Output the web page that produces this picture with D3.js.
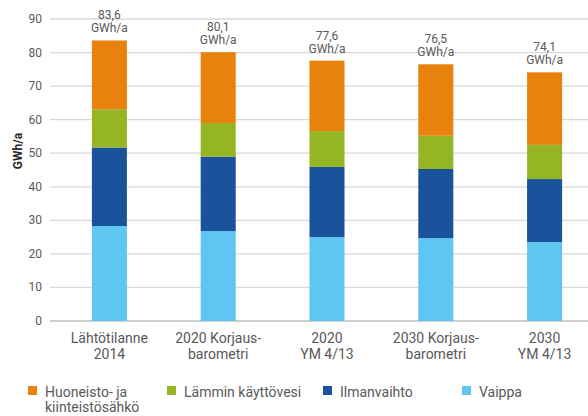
<!DOCTYPE html>
<html>
<head>
<meta charset="utf-8">
<script src="https://cdn.jsdelivr.net/npm/d3@7"></script>
<style>
  body { margin: 0; background: #fff; }
  text { font-family: Roboto, "Noto Sans", sans-serif; fill: #595959; }
</style>
</head>
<body>
<svg id="chart" width="588" height="416"></svg>
<script>
// categories, two lines each
var categories = [["Lähtötilanne", "2014"], ["2020 Korjaus-", "barometri"], ["2020", "YM 4/13"], ["2030 Korjaus-", "barometri"], ["2030", "YM 4/13"]];
var totals = ["83,6", "80,1", "77,6", "76,5", "74,1"];
// series, stacked from the bottom
var vaippa = [28.3, 26.8, 25.0, 24.7, 23.5];
var ilmanvaihto = [23.4, 22.2, 20.9, 20.6, 18.8];
var kayttovesi = [11.4, 10.0, 10.7, 9.9, 10.2];
var sahko = [20.5, 21.1, 21.0, 21.3, 21.6];
var yTicks = [0, 10, 20, 30, 40, 50, 60, 70, 80, 90];

var seriesNames = ["Vaippa", "Ilmanvaihto", "Lämmin käyttövesi", "Huoneisto- ja kiinteistösähkö"];
var seriesData = [vaippa, ilmanvaihto, kayttovesi, sahko];
var colors = ["#5fc6f1", "#1a539c", "#95b524", "#e8820c"];

var svg = d3.select("#chart");

var x = d3.scaleBand().domain(d3.range(categories.length))
    .range([55, 599]).paddingInner(0.678).paddingOuter(0.339);
var y = d3.scaleLinear().domain([0, 90]).range([321, 19]);

// gridlines
svg.selectAll("line.grid").data(yTicks).enter().append("line")
    .attr("class", "grid")
    .attr("x1", 50).attr("x2", 588)
    .attr("y1", function(d){ return y(d); }).attr("y2", function(d){ return y(d); })
    .style("stroke", function(d){ return d === 0 ? "#bfbfbf" : "#d9d9d9"; })
    .style("stroke-width", 1.3);

// y tick labels
svg.selectAll("text.ytick").data(yTicks).enter().append("text")
    .attr("class", "ytick")
    .attr("x", 42).attr("y", function(d){ return y(d) + 4; })
    .attr("text-anchor", "end").style("font-size", "12px")
    .text(function(d){ return d; });

// axis title
svg.append("text").attr("transform", "translate(22,151) rotate(-90)")
    .attr("text-anchor", "middle").style("font-size", "12px")
    .style("font-weight", "bold").style("fill", "#262626")
    .text("GWh/a");

// stack
var rows = categories.map(function(c, i){
    var r = {};
    seriesNames.forEach(function(s, k){ r[s] = seriesData[k][i]; });
    return r;
});
var stacked = d3.stack().keys(seriesNames)(rows);

svg.selectAll("g.layer").data(stacked).enter().append("g")
    .attr("class", "layer")
    .style("fill", function(d, k){ return colors[k]; })
    .selectAll("rect").data(function(d){ return d; }).enter().append("rect")
    .attr("x", function(d, i){ return x(i); })
    .attr("width", x.bandwidth())
    .attr("y", function(d){ return y(d[1]); })
    .attr("height", function(d){ return y(d[0]) - y(d[1]); });

// total labels
var topLayer = stacked[stacked.length - 1];
var lbl = svg.selectAll("text.total").data(totals).enter().append("text")
    .attr("class", "total").attr("text-anchor", "middle").style("font-size", "12px");
lbl.append("tspan")
    .attr("x", function(d, i){ return x(i) + x.bandwidth() / 2; })
    .attr("y", function(d, i){ return y(topLayer[i][1]) - 21; })
    .text(function(d){ return d; });
lbl.append("tspan")
    .attr("x", function(d, i){ return x(i) + x.bandwidth() / 2; })
    .attr("y", function(d, i){ return y(topLayer[i][1]) - 8; })
    .text("GWh/a");

// category labels
var cat = svg.selectAll("text.cat").data(categories).enter().append("text")
    .attr("class", "cat").attr("text-anchor", "middle").style("font-size", "14px");
cat.selectAll("tspan").data(function(d, i){ return d.map(function(t){ return {t: t, i: i}; }); })
    .enter().append("tspan")
    .attr("x", function(d){ return x(d.i) + x.bandwidth() / 2; })
    .attr("y", function(d, j){ return 343 + j * 16; })
    .text(function(d){ return d.t; });

// legend
var legendItems = [
    {lines: ["Huoneisto- ja", "kiinteistösähkö"], color: colors[3], x: 28},
    {lines: ["Lämmin käyttövesi"], color: colors[2], x: 167},
    {lines: ["Ilmanvaihto"], color: colors[1], x: 323},
    {lines: ["Vaippa"], color: colors[0], x: 462}
];
var leg = svg.selectAll("g.legend").data(legendItems).enter().append("g")
    .attr("class", "legend")
    .attr("transform", function(d){ return "translate(" + d.x + ",386)"; });
leg.append("rect").attr("width", 9).attr("height", 9)
    .style("fill", function(d){ return d.color; });
leg.append("text").style("font-size", "14px")
    .selectAll("tspan").data(function(d){ return d.lines; }).enter().append("tspan")
    .attr("x", 17).attr("y", function(d, j){ return 11 + j * 15; })
    .text(function(d){ return d; });
</script>
</body>
</html>
